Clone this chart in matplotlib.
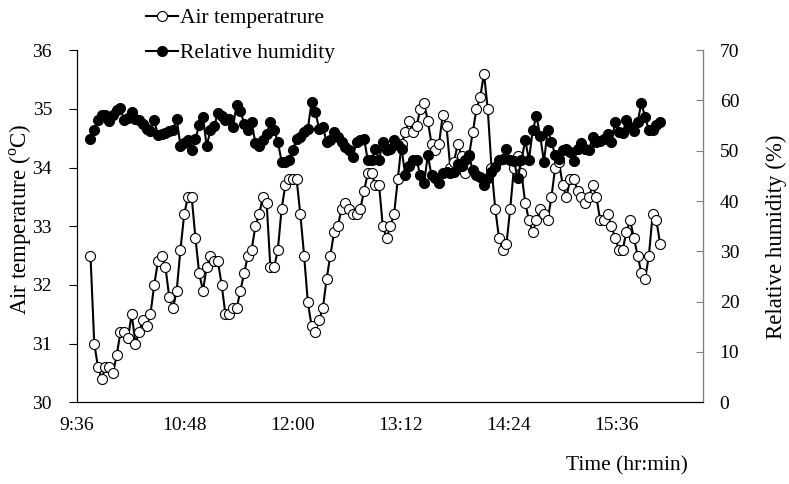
import numpy as np
import matplotlib.pyplot as plt
from matplotlib.ticker import FuncFormatter

plt.rcParams['font.family'] = ['Liberation Serif', 'DejaVu Serif']
plt.rcParams['mathtext.fontset'] = 'custom'
plt.rcParams['mathtext.rm'] = 'Liberation Serif'

# sampling: first reading 9:45, one reading every 2.5 min
t_start = 9 * 60 + 45  # minutes after midnight
t_step = 2.5

air_temp = [
    32.5, 31.0, 30.6, 30.4, 30.6, 30.6, 30.5, 30.8, 31.2, 31.2,
    31.1, 31.5, 31.0, 31.2, 31.4, 31.3, 31.5, 32.0, 32.4, 32.5,
    32.3, 31.8, 31.6, 31.9, 32.6, 33.2, 33.5, 33.5, 32.8, 32.2,
    31.9, 32.3, 32.5, 32.4, 32.4, 32.0, 31.5, 31.5, 31.6, 31.6,
    31.9, 32.2, 32.5, 32.6, 33.0, 33.2, 33.5, 33.4, 32.3, 32.3,
    32.6, 33.3, 33.7, 33.8, 33.8, 33.8, 33.2, 32.5, 31.7, 31.3,
    31.2, 31.4, 31.6, 32.1, 32.5, 32.9, 33.0, 33.3, 33.4, 33.3,
    33.2, 33.2, 33.3, 33.6, 33.9, 33.9, 33.7, 33.7, 33.0, 32.8,
    33.0, 33.2, 33.8, 34.4, 34.6, 34.8, 34.6, 34.7, 35.0, 35.1,
    34.8, 34.4, 34.3, 34.4, 34.9, 34.7, 34.0, 34.1, 34.4, 34.2,
    33.9, 34.2, 34.6, 35.0, 35.2, 35.6, 35.0, 34.0, 33.3, 32.8,
    32.6, 32.7, 33.3, 34.0, 34.2, 33.9, 33.4, 33.1, 32.9, 33.1,
    33.3, 33.2, 33.1, 33.5, 34.0, 34.1, 33.7, 33.5, 33.8, 33.8,
    33.6, 33.5, 33.4, 33.5, 33.7, 33.5, 33.1, 33.1, 33.2, 33.0,
    32.8, 32.6, 32.6, 32.9, 33.1, 32.8, 32.5, 32.2, 32.1, 32.5,
    33.2, 33.1, 32.7]

rel_hum = [
    52.4, 54.2, 56.1, 57.2, 57.2, 55.9, 57.2, 58.1, 58.5, 56.1,
    56.6, 57.7, 56.4, 56.1, 55.4, 54.4, 53.9, 56.1, 53.1, 53.3,
    53.5, 53.9, 54.1, 56.3, 51.0, 51.5, 52.2, 50.1, 52.4, 55.1,
    56.8, 50.9, 54.1, 54.9, 57.5, 56.9, 56.1, 56.4, 54.7, 59.2,
    57.9, 55.4, 54.1, 55.7, 51.5, 50.9, 52.1, 53.4, 55.7, 54.1,
    51.8, 47.8, 47.8, 48.1, 50.1, 52.4, 52.8, 53.8, 54.4, 59.7,
    57.7, 54.4, 54.7, 51.8, 52.1, 53.7, 52.8, 51.8, 50.8, 50.1,
    48.8, 51.8, 52.1, 52.4, 48.1, 48.1, 50.4, 48.1, 51.8, 50.1,
    50.4, 52.1, 51.1, 50.4, 45.1, 46.9, 48.1, 48.2, 45.1, 43.5,
    49.1, 45.1, 44.5, 43.5, 45.5, 45.8, 45.5, 45.8, 47.4, 46.9,
    48.1, 49.1, 46.1, 45.1, 44.8, 43.1, 44.5, 45.8, 46.8, 48.1,
    48.4, 50.4, 48.1, 48.0, 44.5, 48.1, 52.1, 48.2, 54.1, 56.9,
    52.9, 47.8, 54.2, 51.8, 49.1, 48.4, 50.2, 50.4, 49.8, 47.9,
    50.4, 51.5, 50.4, 50.1, 52.8, 51.8, 52.0, 52.4, 53.4, 51.8,
    55.7, 53.7, 53.5, 56.2, 54.7, 53.9, 55.7, 59.5, 56.7, 54.1,
    54.1, 55.1, 55.7]

tick_times = [9 * 60 + 36, 10 * 60 + 48, 12 * 60, 13 * 60 + 12, 14 * 60 + 24, 15 * 60 + 36]

t = t_start + t_step * np.arange(len(air_temp))


def hhmm(x, pos):
    return '{}:{:02d}'.format(int(x // 60), int(round(x % 60)))


fig = plt.figure(figsize=(7.89, 4.84), dpi=100)
ax = fig.add_axes([0.0976, 0.169, 0.7934, 0.7273])
ax.plot(t, air_temp, '-o', color='black', lw=1.5, ms=7.2, mfc='white', mec='black', mew=0.8,
        label='Air temperatrure')
ax2 = ax.twinx()
ax2.plot(t, rel_hum, '-o', color='black', lw=1.5, ms=7.2, mfc='black', mec='black', mew=0.8,
         label='Relative humidity')

ax.set_xlim(576, 576 + 417.6)
ax.set_xticks(tick_times)
ax.xaxis.set_major_formatter(FuncFormatter(hhmm))
ax.set_ylim(30, 36)
ax.set_yticks(range(30, 37))
ax2.set_ylim(0, 70)
ax2.set_yticks(range(0, 80, 10))

for a in (ax, ax2):
    a.spines['top'].set_visible(False)
ax2.spines['right'].set_color('#7f7f7f')
ax.tick_params(axis='x', length=0, pad=11, labelsize=14)
ax.tick_params(axis='y', direction='out', length=6, labelsize=14, pad=12)
ax2.tick_params(axis='y', direction='in', length=5, color='#7f7f7f', labelsize=14, pad=12)

ax.set_ylabel('Air temperature ($^{\\mathrm{o}}$C)', fontsize=16.5)
ax.yaxis.set_label_coords(-0.069, 0.52)
ax2.set_ylabel('Relative humidity (%)', fontsize=16.5)
ax2.yaxis.set_label_coords(1.10, 0.47)
fig.text(688 / 789, 1 - 466 / 484, 'Time (hr:min)', ha='right', va='center', fontsize=15.5)

h1, l1 = ax.get_legend_handles_labels()
h2, l2 = ax2.get_legend_handles_labels()
fig.legend(h1 + h2, l1 + l2, loc='upper left', bbox_to_anchor=(146 / 789, 1 - 8 / 484),
           frameon=False, fontsize=15.5, handlelength=1.5, handletextpad=0.1,
           labelspacing=0.7, borderpad=0, borderaxespad=0)

plt.savefig('out.png', dpi=100)
